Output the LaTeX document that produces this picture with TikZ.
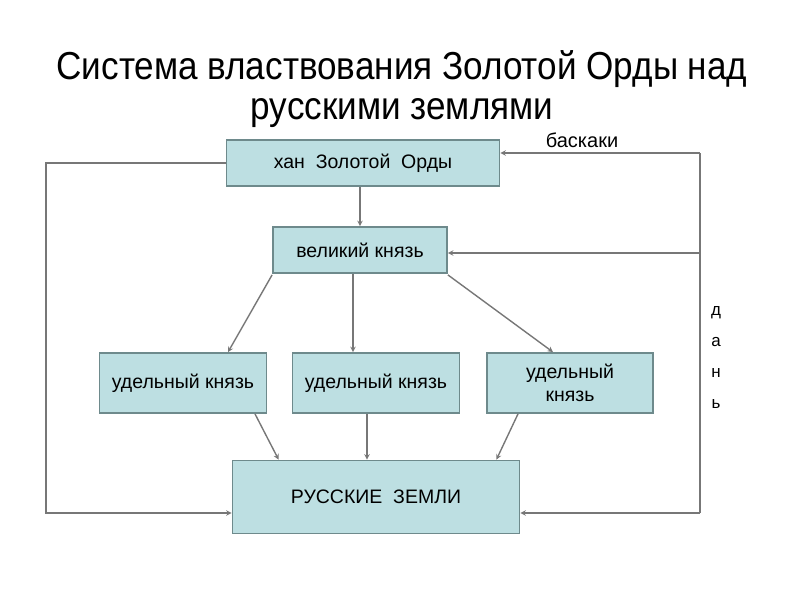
\documentclass[tikz,border=0pt]{standalone}
\usepackage{fontspec}
\setmainfont{Liberation Sans}
\newfontfamily\titlefont[FakeStretch=0.9]{Liberation Sans}
\usepackage{tikz}
\usetikzlibrary{calc,arrows}
\definecolor{boxfill}{HTML}{BDDFE2}
\definecolor{boxline}{HTML}{6E8A8C}
\definecolor{wire}{HTML}{777777}
\tikzset{
    box/.style={draw=boxline, fill=boxfill, line width=1.8pt, align=center, font=\fontsize{19.5}{23}\selectfont},
    wire/.style={draw=wire, line width=1.4pt, -stealth}
}

\begin{document}
\begin{tikzpicture}[x=1pt, y=-1pt]
        \useasboundingbox (0,0) rectangle (800,600);

        \draw (402,79) node[anchor=base](t1){\titlefont\fontsize{39}{44}\selectfont Система властвования Золотой Орды над};
        \draw (402,119) node[anchor=base](t2){\titlefont\fontsize{39}{44}\selectfont русскими землями};

        \draw (363,163) node[box, minimum width=273pt, minimum height=46pt](khan){хан\ \ Золотой\ \ Орды};
        \draw (360,250) node[box, minimum width=174pt, minimum height=46pt](grand){великий князь};
        \draw (183,383) node[box, minimum width=167pt, minimum height=60pt](u1){удельный князь};
        \draw (376,383) node[box, minimum width=167pt, minimum height=60pt](u2){удельный князь};
        \draw (570,383) node[box, minimum width=166pt, minimum height=60pt](u3){удельный\\князь};
        \draw (376,497) node[box, minimum width=287pt, minimum height=73pt](land){РУССКИЕ\ \ ЗЕМЛИ};

        \draw (582,140) node[font=\fontsize{20}{22}\selectfont](bask){баскаки};
        \draw (716,358) node[font=\fontsize{17}{31}\selectfont, align=center](tax){д\\а\\н\\ь};

        \coordinate (lt) at (46,163);
        \coordinate (lb) at (46,513);
        \coordinate (rt) at (700,153);
        \coordinate (rm) at (700,253);
        \coordinate (rb) at (700,513);

        \draw[wire] (grand.north |- khan.south) to (grand.north);
        \draw[wire] ($(grand.south west)+(0,1)$) to ($(u1.north)+(45,0)$);
        \draw[wire] ($(grand.south)+(-7,0)$) to ($(u2.north)+(-23,0)$);
        \draw[wire] ($(grand.south east)+(0,1)$) to ($(u3.north)+(-17,0)$);
        \draw[wire] ($(u1.south)+(72,0)$) to ($(land.north west)+(47,0)$);
        \draw[wire] ($(u2.south)+(-9,0)$) to ($(land.north)+(-9,0)$);
        \draw[wire] ($(u3.south)+(-52,0)$) to ($(land.north east)+(-24,0)$);

        \draw[wire] (khan.west) -- (lt) -- (lb) -- (land.west |- lb);
        \draw[wire] (rb) -- (land.east |- rb);
        \draw[wire] (rt) -- (khan.east |- rt);
        \draw[wire] (rm) -- (grand.east |- rm);
        \draw[wire, -] (rt) -- (rb);
    \end{tikzpicture}
\end{document}
